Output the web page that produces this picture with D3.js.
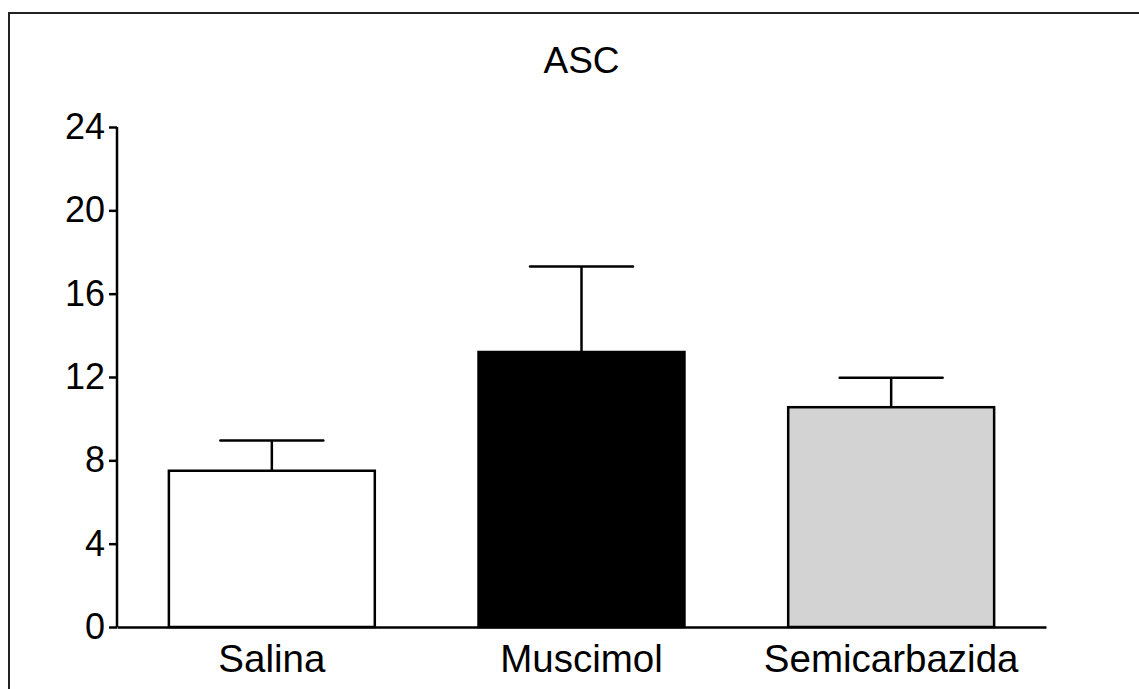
<!DOCTYPE html>
<html>
<head>
<meta charset="utf-8">
<script src="https://cdn.jsdelivr.net/npm/d3@7"></script>
<style>
  html, body { margin: 0; padding: 0; background: #fff; }
  svg { display: block; }
  text { font-family: Arial, "Liberation Sans", sans-serif; fill: #000; }
</style>
</head>
<body>
<svg id="chart" width="1139" height="689"></svg>
<script>
const categories = ["Salina", "Muscimol", "Semicarbazida"];
const means = [7.5, 13.2, 10.55];
const errors = [1.45, 4.1, 1.42];
const fills = ["#ffffff", "#000000", "#d3d3d3"];
const yTicks = [0, 4, 8, 12, 16, 20, 24];
const title = "ASC";

const svg = d3.select("#chart");
const margin = { left: 117, right: 1139 - 1046, top: 127, bottom: 689 - 627 };
const W = 1139, H = 689;

// outer frame
svg.append("rect")
  .attr("x", 9).attr("y", 13)
  .attr("width", 1300).attr("height", 900)
  .attr("fill", "none").attr("stroke", "#222").attr("stroke-width", 2);

const x = d3.scaleBand().domain(categories)
  .range([margin.left, W - margin.right])
  .paddingInner(0.335).paddingOuter(0.1675);
const y = d3.scaleLinear().domain([0, 24]).range([H - margin.bottom, margin.top]);

const data = categories.map((c, i) => ({ c, m: means[i], e: errors[i], f: fills[i] }));

// error bars (drawn first so bar top covers stem base)
const eb = svg.append("g").attr("stroke", "#000").attr("stroke-width", 2.5).attr("fill", "none");
data.forEach(d => {
  const cx = x(d.c) + x.bandwidth() / 2;
  eb.append("line").attr("x1", cx).attr("x2", cx).attr("y1", y(d.m)).attr("y2", y(d.m + d.e));
  eb.append("line").attr("x1", cx - x.bandwidth() / 4).attr("x2", cx + x.bandwidth() / 4)
    .attr("y1", y(d.m + d.e)).attr("y2", y(d.m + d.e)).attr("stroke-linecap", "round");
});

// bars
svg.append("g").selectAll("rect").data(data).join("rect")
  .attr("x", d => x(d.c))
  .attr("y", d => y(d.m))
  .attr("width", x.bandwidth())
  .attr("height", d => y(0) - y(d.m))
  .attr("fill", d => d.f)
  .attr("stroke", "#000")
  .attr("stroke-width", 2.5);

// y axis
const yAxis = svg.append("g").attr("transform", `translate(${margin.left},0)`)
  .call(d3.axisLeft(y).tickValues(yTicks).tickSize(8).tickPadding(4).tickFormat(d3.format("d")));
yAxis.select(".domain").attr("stroke", "#000").attr("stroke-width", 2.5)
  .attr("d", `M0,${y(24)}V${y(0)}`);
yAxis.selectAll(".tick line").attr("stroke", "#000").attr("stroke-width", 2.5);
yAxis.selectAll(".tick text").attr("font-size", 36).attr("font-family", "Arial, 'Liberation Sans', sans-serif").attr("fill", "#000");

// x axis
const xAxis = svg.append("g").attr("transform", `translate(0,${y(0)})`)
  .call(d3.axisBottom(x).tickSize(0).tickPadding(18));
xAxis.select(".domain").attr("stroke", "#000").attr("stroke-width", 2.5);
xAxis.selectAll(".tick text").attr("font-size", 38.5).attr("font-family", "Arial, 'Liberation Sans', sans-serif").attr("fill", "#000");

// title
svg.append("text")
  .attr("x", (margin.left + W - margin.right) / 2)
  .attr("y", 72.5)
  .attr("text-anchor", "middle")
  .attr("font-size", 37)
  .text(title);
</script>
</body>
</html>
